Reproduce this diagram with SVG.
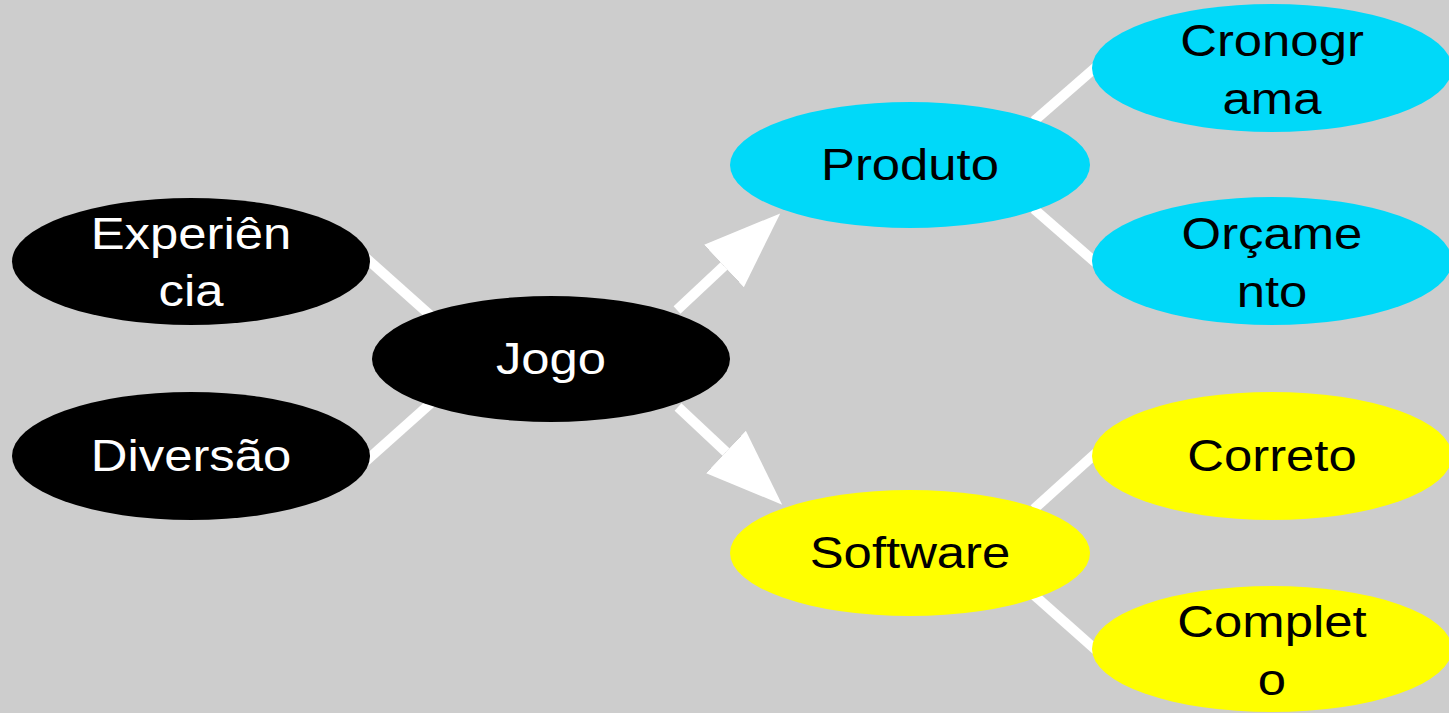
<svg xmlns="http://www.w3.org/2000/svg" width="1449" height="713" viewBox="0 0 1449 713">
<style>
.bg{fill:#cdcdcd}
.black{fill:#000}
.cyan{fill:#00d9f9}
.yellow{fill:#ffff00}
.lbl{font-family:"Liberation Sans",Arial,sans-serif;font-size:45px;text-anchor:middle}
.w{fill:#fff}
.k{fill:#000}
.edge{stroke:#fff;stroke-width:10;fill:none}
</style>
<defs>
<marker id="head" markerUnits="userSpaceOnUse" viewBox="0 -30 80 60" refX="0" refY="0" markerWidth="80" markerHeight="60" orient="auto">
<path d="M0,-29 L77,0 L0,29 z" fill="#fff"/>
</marker>
</defs>
<rect class="bg" x="0" y="0" width="1449" height="713"/>
<g id="connectors">
<line class="edge" x1="366" y1="258" x2="431" y2="316"/>
<line class="edge" x1="366" y1="461" x2="431" y2="403"/>
<line class="edge" x1="677" y1="310" x2="724" y2="266" marker-end="url(#head)"/>
<line class="edge" x1="678" y1="407" x2="726" y2="452" marker-end="url(#head)"/>
<line class="edge" x1="1034" y1="121" x2="1096" y2="67"/>
<line class="edge" x1="1034" y1="209" x2="1096" y2="263"/>
<line class="edge" x1="1034" y1="509" x2="1096" y2="453"/>
<line class="edge" x1="1034" y1="595" x2="1096" y2="650"/>
</g>
<g id="node-experiencia">
<ellipse class="black" cx="191" cy="261.5" rx="179" ry="63.5"/>
<g transform="translate(191,0) scale(1.13,1)"><text class="lbl w" x="0" y="249.5">Experiên</text><text class="lbl w" x="0" y="306.5">cia</text></g>
</g>
<g id="node-diversao">
<ellipse class="black" cx="191" cy="456" rx="179" ry="64"/>
<g transform="translate(191,0) scale(1.13,1)"><text class="lbl w" x="0" y="471">Diversão</text></g>
</g>
<g id="node-jogo">
<ellipse class="black" cx="551" cy="359" rx="179" ry="63"/>
<g transform="translate(551,0) scale(1.13,1)"><text class="lbl w" x="0" y="374">Jogo</text></g>
</g>
<g id="node-produto">
<ellipse class="cyan" cx="910" cy="165" rx="180" ry="63"/>
<g transform="translate(910,0) scale(1.13,1)"><text class="lbl k" x="0" y="180">Produto</text></g>
</g>
<g id="node-software">
<ellipse class="yellow" cx="910" cy="553" rx="180" ry="63"/>
<g transform="translate(910,0) scale(1.13,1)"><text class="lbl k" x="0" y="568">Software</text></g>
</g>
<g id="node-cronograma">
<ellipse class="cyan" cx="1272" cy="68" rx="180" ry="64"/>
<g transform="translate(1272,0) scale(1.13,1)"><text class="lbl k" x="0" y="56">Cronogr</text><text class="lbl k" x="0" y="114">ama</text></g>
</g>
<g id="node-orcamento">
<ellipse class="cyan" cx="1272" cy="261" rx="180" ry="64"/>
<g transform="translate(1272,0) scale(1.13,1)"><text class="lbl k" x="0" y="249">Orçame</text><text class="lbl k" x="0" y="307">nto</text></g>
</g>
<g id="node-correto">
<ellipse class="yellow" cx="1272" cy="456" rx="180" ry="64"/>
<g transform="translate(1272,0) scale(1.13,1)"><text class="lbl k" x="0" y="471">Correto</text></g>
</g>
<g id="node-completo">
<ellipse class="yellow" cx="1272" cy="649" rx="180" ry="63"/>
<g transform="translate(1272,0) scale(1.13,1)"><text class="lbl k" x="0" y="637">Complet</text><text class="lbl k" x="0" y="695">o</text></g>
</g>
</svg>
